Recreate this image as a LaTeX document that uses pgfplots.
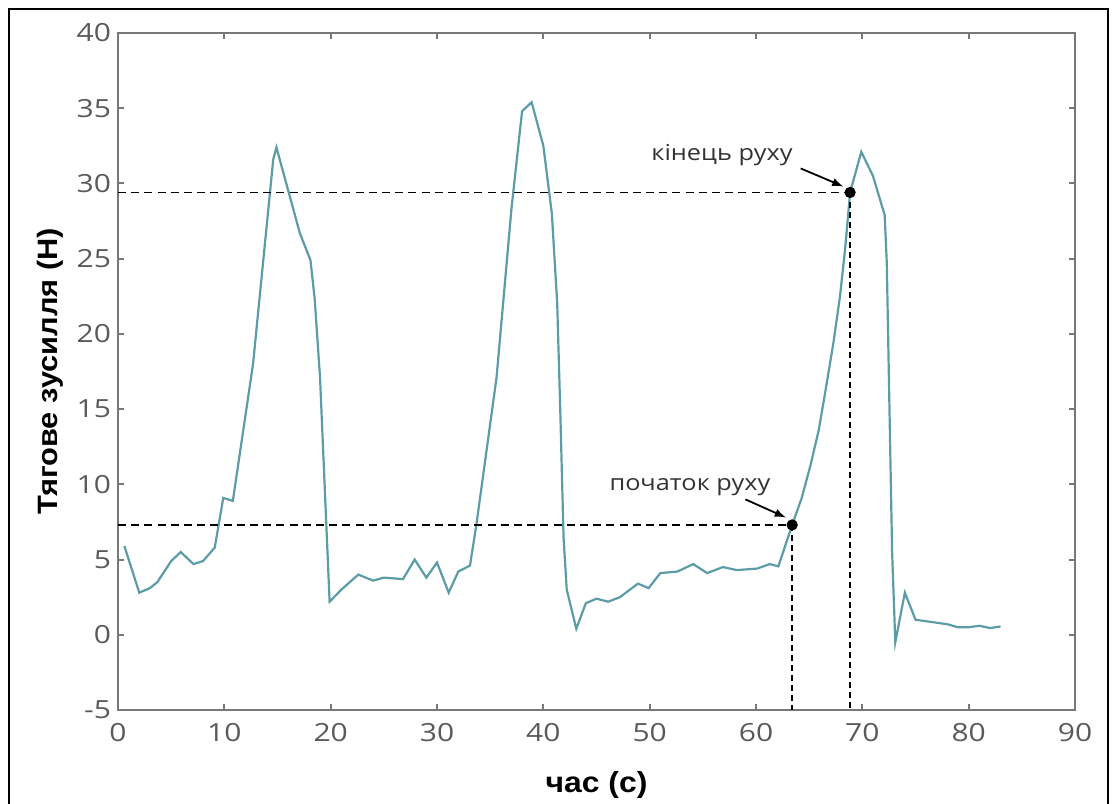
\documentclass[border=0pt]{standalone}
\usepackage{pgfplots}
\pgfplotsset{compat=1.18}
\usepackage{fontspec}
\setmainfont{Open Sans}
\newfontfamily\tickfont[FakeStretch=1.2]{Open Sans}
\newfontfamily\annfont[FakeStretch=1.15]{Open Sans}
\newfontfamily\labfont[FakeStretch=1.1]{Liberation Sans}
\definecolor{lineteal}{RGB}{92,156,166}
\definecolor{axgrey}{RGB}{120,120,120}
\definecolor{tickgrey}{RGB}{90,90,90}
\begin{document}
\begin{tikzpicture}
\useasboundingbox (0pt,0pt) rectangle (556pt,401.5pt);
\draw[black, line width=1.1pt] (4.6pt,-2pt) -- (4.6pt,396.9pt) -- (554pt,396.9pt) -- (554pt,-2pt);
\begin{axis}[
  at={(59pt,46.5pt)}, anchor=south west,
  scale only axis, width=478.5pt, height=338.5pt,
  xmin=0, xmax=90, ymin=-5, ymax=40,
  xtick={0,10,...,90}, ytick={-5,0,...,40},
  tick align=inside, major tick length=3pt,
  axis line style={axgrey, line width=1.2pt},
  tick style={axgrey, line width=1pt},
  /pgf/number format/assume math mode=true,
  ticklabel style={font=\tickfont\fontsize{12.5}{14}\selectfont, text=tickgrey},
  xticklabel style={yshift=-3pt},
  xlabel={\labfont\bfseries\fontsize{14.5}{16}\selectfont час (с)},
  ylabel={\labfont\bfseries\fontsize{14}{16}\selectfont Тягове зусилля (Н)},
  xlabel style={yshift=-8pt},
  ylabel style={yshift=0pt},
  clip=false,
]
\addplot[lineteal, line width=1.1pt] coordinates {
(0.6,5.9) (2.0,2.8) (3.0,3.1) (3.7,3.5) (5.0,4.9) (5.9,5.5) (7.1,4.7) (8.0,4.9) (9.1,5.8)
(9.9,9.1) (10.8,8.9) (12.7,18.0) (14.6,31.6) (14.9,32.4) (15.4,31.1) (17.1,26.7) (18.1,24.9)
(18.5,22.3) (19.0,17.1) (19.9,2.2) (21.0,3.0) (22.6,4.0) (24.0,3.6) (25.0,3.8) (26.8,3.7)
(27.9,5.0) (29.0,3.8) (30.0,4.8) (31.1,2.8) (32.0,4.2) (33.1,4.6) (33.7,7.3) (35.6,17.1)
(37.0,28.3) (38.0,34.8) (38.9,35.4) (40.0,32.5) (40.8,28.0) (41.3,22.1) (41.6,14.7)
(41.9,6.5) (42.2,3.0) (43.1,0.4) (44.0,2.1) (45.0,2.4) (46.1,2.2) (47.2,2.5) (48.9,3.4)
(49.9,3.1) (51.0,4.1) (52.6,4.2) (54.1,4.7) (55.4,4.1) (56.9,4.5) (58.2,4.3) (60.1,4.4)
(61.3,4.7) (62.1,4.55) (63.4,7.3) (64.3,9.1) (65.1,11.2) (65.9,13.6) (66.6,16.5) (67.3,19.5) (67.9,22.5) (68.4,25.8) (68.85,29.4)
(69.9,32.1) (71.0,30.5) (72.1,27.9) (72.3,24.7) (72.8,5.5) (73.1,-0.5) (74.0,2.8)
(75.0,1.0) (76.0,0.9) (77.0,0.8) (78.0,0.7) (79.0,0.5) (80.0,0.5) (81.0,0.6) (82.0,0.45) (83.0,0.55)
};
\draw[black, line width=0.9pt, dash pattern=on 4pt off 2.6pt] (axis cs:0,29.4) -- (axis cs:68.85,29.4);
\draw[black, line width=0.9pt, dash pattern=on 4pt off 2.6pt] (axis cs:0,7.3) -- (axis cs:63.4,7.3);
\draw[black, line width=1.3pt, dash pattern=on 3pt off 2pt] (axis cs:63.4,7.3) -- (axis cs:63.4,-5);
\draw[black, line width=1.3pt, dash pattern=on 3pt off 2pt] (axis cs:68.85,29.4) -- (axis cs:68.85,-5);
\addplot[only marks, mark=*, mark size=2.6pt, black] coordinates {(63.4,7.3) (68.85,29.4)};
\draw[-latex, black, line width=0.9pt] (axis cs:64.2,31.0) -- (axis cs:68.2,29.8);
\draw[-latex, black, line width=0.9pt] (axis cs:59.0,9.0) -- (axis cs:62.8,7.8);
\node[font=\annfont\fontsize{11}{13}\selectfont, text=black!80] at (axis cs:56.8,31.9) {кінець руху};
\node[font=\annfont\fontsize{11}{13}\selectfont, text=black!80] at (axis cs:53.8,9.8) {початок руху};
\end{axis}
\end{tikzpicture}
\end{document}
